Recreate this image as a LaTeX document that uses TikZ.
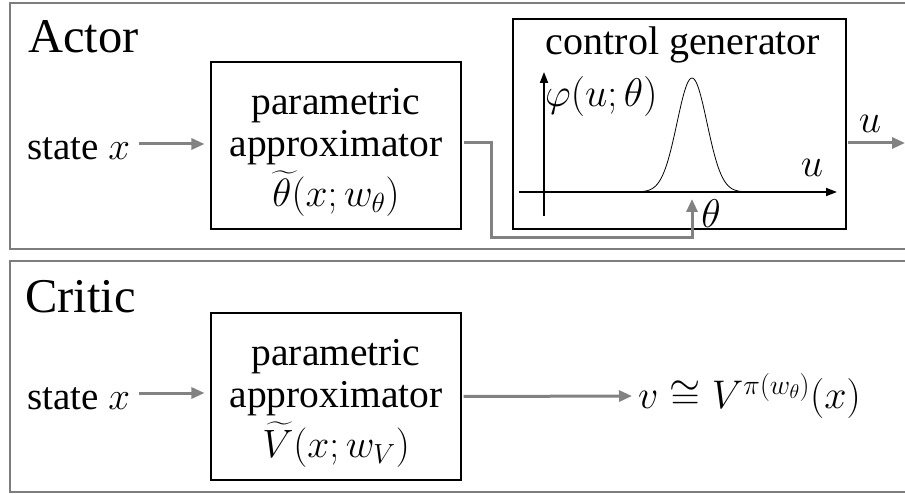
\RequirePackage{fix-cm}
\documentclass[tikz,border=0pt]{standalone}
\usepackage{amsmath}
\usepackage{fontspec}
\setmainfont{Liberation Serif}
\usetikzlibrary{arrows.meta}
\definecolor{linegray}{RGB}{130,130,130}
\definecolor{framegray}{RGB}{125,125,125}
\begin{document}
\begin{tikzpicture}[x=1pt,y=-1pt,
  frame/.style={draw=framegray, line width=2},
  block/.style={draw=black, line width=1.1, inner sep=0, minimum width=250, minimum height=167,
    align=center, font=\fontsize{39.5}{42}\selectfont},
  genbox/.style={draw=black, line width=1.1, inner sep=0, minimum width=333, minimum height=210},
  conn/.style={draw=linegray, line width=3, -{Triangle[length=13, width=11]}},
  axisline/.style={draw=black, line width=1.8, -{Triangle[length=11, width=8]}},
  title/.style={inner sep=0, font=\fontsize{48.5}{52}\selectfont},
  lbl/.style={inner sep=0, font=\fontsize{40}{44}\selectfont},
  statelbl/.style={inner sep=0, font=\fontsize{39}{44}\selectfont}
]
\useasboundingbox (0,0) rectangle (905,494);
\fill[white] (0,0) rectangle (905,494);

% outer frames
\draw[frame] (906,3) -- (10,3) -- (10,249) -- (906,249);
\draw[frame] (906,261) -- (10,261) -- (10,492) -- (906,492);

% Actor
\node[title, anchor=base west] (actorT) at (28,53) {Actor};
\node[statelbl, anchor=base west] (stateA) at (27,160) {state $x$};
\node[block] (blockA) at (336,145.5) {\rule{0pt}{0pt}\\[-2pt]parametric\\approximator\\[5pt]$\widetilde{\theta\mkern3mu}\mkern-3mu(x;w_\theta)$};
\draw[conn, shorten <=9, shorten >=6] ([yshift=16pt]stateA.base east) coordinate (sa) -- (sa -| blockA.west);

\node[genbox] (cg) at (679.5,124) {};
\node[lbl] (cgT) at (683,45) {control generator};
\draw[axisline] (544,216) -- (544,72);
\draw[axisline] (519,192) -- (837,192);
\draw[black, line width=0.8] plot[domain=600:780, samples=120, smooth] (\x, {192 - 114*exp(-((\x-692)*(\x-692))/450)});
\node[lbl, anchor=west] (phiL) at (545,97) {$\varphi(u;\theta)$};
\node[lbl] (uAx) at (812,168) {$u$};
\node[lbl] (thL) at (711,214) {$\theta$};
\coordinate (thIn) at (692,199);
\draw[conn, shorten <=2] (blockA.east |- 0,143) -- (491,143) |- (692,238) -- (thIn);

\coordinate (uOut) at (905,143);
\draw[conn, shorten <=1] (cg.east |- uOut) -- (uOut);
\node[lbl] (uL) at (870,124) {$u$};

% Critic
\node[title, anchor=base west] (criticT) at (25,313) {Critic};
\node[statelbl, anchor=base west] (stateC) at (27,409) {state $x$};
\node[block] (blockC) at (336,396.5) {\rule{0pt}{0pt}\\[-2pt]parametric\\approximator\\[5pt]$\widetilde{V\mkern2mu}\mkern-2mu(x;w_V)$};
\draw[conn, shorten <=9, shorten >=6] ([yshift=16pt]stateC.base east) coordinate (sc) -- (sc -| blockC.west);
\node[lbl, anchor=west] (vL) at (638,396) {$v \cong V^{\pi(w_\theta)}(x)$};
\draw[conn, shorten <=2, shorten >=6] (blockC.east) -- (vL.west);
\end{tikzpicture}
\end{document}
